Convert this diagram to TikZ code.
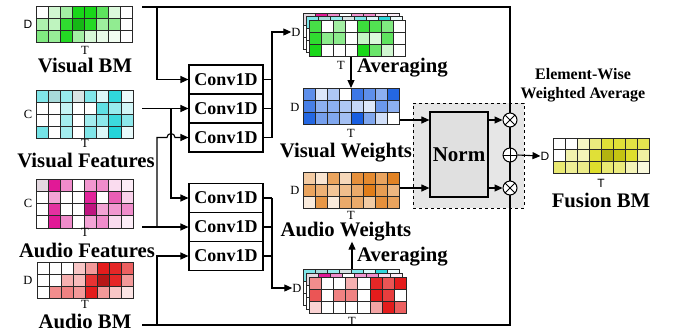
\documentclass[tikz,border=0pt]{standalone}
\usepackage{fontspec}
\setmainfont{Liberation Serif}
\newfontfamily\sanslab{Liberation Sans}
\usetikzlibrary{arrows.meta}
\definecolor{cG}{RGB}{25,215,25}
\definecolor{cC}{RGB}{25,210,215}
\definecolor{cM}{RGB}{225,25,150}
\definecolor{cR}{RGB}{228,28,28}
\definecolor{cB}{RGB}{25,95,225}
\definecolor{cO}{RGB}{225,125,25}
\definecolor{cY}{RGB}{218,218,20}
\definecolor{cCg}{RGB}{216,228,228}
\definecolor{cCh}{RGB}{168,218,218}
\definecolor{cMg}{RGB}{228,216,224}
\definecolor{gridline}{RGB}{40,40,40}
\definecolor{panelgray}{RGB}{230,230,230}
\definecolor{normgray}{RGB}{224,224,224}
\newcommand{\hmgrid}[5]{%
  \foreach \rw [count=\ri from 0] in {#5} {
    \foreach \cv [count=\ci from 0] in \rw {
      \filldraw[fill=\cv, draw=gridline, line width=0.9pt] ({#1+\ci*#3},{#2+\ri*#4}) rectangle ++(#3,#4);
    }
  }%
}
\tikzset{
  lab/.style={font=\fontsize{20.7}{22}\selectfont\bfseries, inner sep=0pt},
  smalllab/.style={font=\fontsize{12.5}{13}\selectfont, inner sep=0pt},
  sanssmall/.style={font=\fontsize{12}{13}\selectfont\sanslab, inner sep=0pt},
  conv/.style={draw, line width=1.1pt, minimum width=74pt, minimum height=29pt, inner sep=0pt, font=\fontsize{18}{20}\selectfont\bfseries},
  wire/.style={line width=1.1pt},
  arr/.style={wire, -{Triangle[length=8pt,width=7pt]}},
  op/.style={circle, draw, line width=1pt, fill=white, minimum size=14pt, inner sep=0pt},
  crossop/.style={op, path picture={\draw[line width=1pt] (path picture bounding box.north west) -- (path picture bounding box.south east) (path picture bounding box.north east) -- (path picture bounding box.south west);}},
  plusop/.style={op, path picture={\draw[line width=1pt] (path picture bounding box.north) -- (path picture bounding box.south) (path picture bounding box.east) -- (path picture bounding box.west);}},
}
\begin{document}
\begin{tikzpicture}[x=1pt,y=-1pt]
\useasboundingbox (0,0) rectangle (676,333);

% ---------- input grids ----------
\hmgrid{36}{6}{12.1}{12.3}{{white,cG!20,cG!40,cG,cG,cG!70,cG!15,white},{cG!35,cG!28,cG!90,cG!85!black,cG!95,cG!42,cG!48,white},{cG!55,cG!45,cG!95,cG!40,cG!18,cG!10,cG!6,white}}
\node[sanssmall] (dvbm) at (28,24) {D};
\node[smalllab] (tvbm) at (85,50) {T};
\node[lab] (lvbm) at (85,65.5) {Visual BM};

\hmgrid{36.5}{90}{12.07}{12}{{cC!55,cCh,cC!45,cCg,cC!55,cC!15,cC!90,cC!8},{white,white,cC!25,white,white,cC!70,cC!45,cC!20},{white,white,cC!40,white,cC!40,cC!50,cC!85,cC!50},{cC!60,white,cC!40,white,cC!55,cC!15,cC!95,cC!10}}
\node[smalllab] (cvf) at (28,114) {C};
\node[smalllab] (tvf) at (85,143) {T};
\node[lab] (lvf) at (86,160) {Visual Features};

\hmgrid{36.5}{179}{12.07}{12.25}{{cMg,cM,cM!50,white,cM!45,cM!50,cM!15,cM!8},{white,cM!40,white,white,cM!95,white,cM!70,cM!20},{white,cM!90,white,white,cM!85!black,cM!40,cM!45,cM!50},{white,cM,cM!50,white,cM!40,cM!50,cM!15,cM!8}}
\node[smalllab] (caf) at (28,203) {C};
\node[smalllab] (taf) at (85,232) {T};
\node[lab] (laf) at (87,250) {Audio Features};

\hmgrid{37}{262}{12}{12}{{white,white,white,cR!25,cR!45,cR,cR!95,cR!70},{white,white,cR!35,cR!30,cR!90,cR!80!black,cR!95,cR!45},{white,cR!50,cR!55,cR!45,cR,cR!45,cR!25,cR!12}}
\node[smalllab] (dabm) at (28,280) {D};
\node[smalllab] (tabm) at (85,304) {T};
\node[lab] (labm) at (85,321) {Audio BM};

% ---------- Conv1D boxes ----------
\node[conv] (cv1) at (226,79.5) {Conv1D};
\node[conv] (cv2) at (226,108.5) {Conv1D};
\node[conv] (cv3) at (226,137.5) {Conv1D};
\node[conv] (cv4) at (226,198) {Conv1D};
\node[conv] (cv5) at (226,227) {Conv1D};
\node[conv] (cv6) at (226,256) {Conv1D};

% ---------- outer frame line (Visual BM / Audio BM) ----------
\coordinate (vbmR) at (142,7);
\coordinate (abmR) at (142,325);
\coordinate (frTR) at (510,7);
\coordinate (frBR) at (510,325);
\draw[wire] (vbmR) -- (frTR) -- (frBR) -- (abmR);

% inputs
\coordinate (vbmBr) at (157,7);
\draw[arr] (vbmBr) |- (cv1.west);
\coordinate (vfR) at (142,108.5);
\draw[arr] (vfR) -- (cv2.west);
\coordinate (vfBr) at (171,108.5);
\draw[arr] (vfBr) |- (cv4.west);
\coordinate (afR) at (142,227);
\draw[arr] (afR) -- (cv5.west);
\coordinate (afBr) at (157,227);
\coordinate (afUp) at (157,137.5);
\coordinate (hopA) at (167,137.5);
\draw[arr] (afBr) -- (afUp) -- (hopA) arc (180:360:4) -- (cv3.west);
\coordinate (abmBr) at (157,325);
\draw[arr] (abmBr) |- (cv6.west);

% ---------- stacked grids ----------
\hmgrid{303}{13}{12.1}{12}{{cMg,cM,cM!50,white,cM!45,cM!50,cM!15,cM!8},{white,cM!40,white,white,cM!95,white,cM!70,cM!20},{white,cM!90,white,white,cM!85!black,cM!40,cM!45,cM!50}}
\hmgrid{306}{16.5}{12.1}{12}{{cC!55,cCh,cC!45,cCg,cC!55,cC!15,cC!90,cC!8},{white,white,cC!25,white,white,cC!70,cC!45,cC!20},{white,white,cC!40,white,cC!40,cC!50,cC!85,cC!50}}
\hmgrid{309}{20}{12.1}{12}{{cG!80,white,cG!40,white,cG!85,cG!75,cG!55,white},{cG!90,cG!50,cG!50,white,cG!25,cG!15,cG!70,white},{cG,white,white,white,cG,cG!65,cG!20,white}}
\node[smalllab] (dstk1) at (296,32) {D};
\node[smalllab] (tstk1) at (341,65) {T};

\hmgrid{303}{269}{12.1}{12}{{cC!55,cCh,cC!45,cCg,cC!55,cC!15,cC!90,cC!8},{white,white,cC!25,white,white,cC!70,cC!45,cC!20},{white,white,cC!40,white,cC!40,cC!50,cC!85,cC!50}}
\hmgrid{306}{273}{12.1}{12}{{cMg,cM,cM!50,white,cM!45,cM!50,cM!15,cM!8},{white,cM!40,white,white,cM!95,white,cM!70,cM!20},{white,cM!90,white,white,cM!85!black,cM!40,cM!45,cM!50}}
\hmgrid{309}{277}{12.2}{12}{{cR!50,white,white,cR!35,white,cR!95,cR!75,cR},{cR!75,white,cR!55,cR!55,white,cR,cR!85,white},{cR!20,white,white,white,white,cR!40,cR,cR!70}}
\node[smalllab] (dstk2) at (297,288) {D};
\node[smalllab] (tstk2) at (352,321) {T};

% conv outputs
\coordinate (upV) at (272,32);
\draw[wire] (cv1.east) -- (cv1.east -| upV);
\draw[wire] (cv2.east) -- (cv2.east -| upV);
\draw[wire] (cv3.east) -- (cv3.east -| upV);
\draw[arr] (cv3.east -| upV) -- (upV) -- (dstk1.west);
\coordinate (loV) at (272,288);
\draw[wire] (cv4.east) -- (cv4.east -| loV);
\draw[wire] (cv5.east) -- (cv5.east -| loV);
\draw[wire] (cv6.east) -- (cv6.east -| loV);
\draw[arr] (cv4.east -| loV) -- (loV) -- (dstk2.west);

% ---------- weights ----------
\hmgrid{303}{88}{12.1}{12.3}{{cB!70,cB!15,cB!35,white,cB!85,cB!70,cB!50,cB!95},{cB!80,cB!50,cB!50,cB!35,cB!25,cB!15,cB!65,cB!50},{cB!95,cB!60,cB!55,cB!40,cB,cB!55,cB!20,white}}
\node[smalllab] (dvw) at (295,107) {D};
\node[smalllab] (tvw) at (351,133) {T};
\node[lab] (lvw) at (346,153) {Visual Weights};

\hmgrid{303}{172}{12.1}{12}{{cO!40,cO!20,cO!70,cO!30,cO!85,cO!90,cO!70,cO!95},{cO!70,cO!60,cO!45,cO!50,cO!65,cO,cO!75,cO!55},{cO!15,cO!80,cO!15,cO!65,cO!65,cO!40,cO!85,cO!70}}
\node[smalllab] (daw) at (295,190) {D};
\node[smalllab] (taw) at (351,215) {T};
\node[lab] (law) at (346,232) {Audio Weights};

\coordinate (avg1s) at (351,57);
\coordinate (avg1e) at (351,88);
\draw[arr] (avg1s) -- (avg1e);
\node[lab, anchor=west] (avg1) at (357,68) {Averaging};
\coordinate (avg2s) at (352,269);
\draw[arr] (avg2s) -- (law.south -| avg2s);
\node[lab, anchor=west] (avg2) at (357,257) {Averaging};

% ---------- norm panel ----------
\node[draw, dashed, line width=0.9pt, fill=panelgray, minimum width=111pt, minimum height=105pt, inner sep=0pt] (panel) at (468.5,155.5) {};
\node[draw, line width=1.2pt, fill=normgray, minimum width=58pt, minimum height=85pt, inner sep=0pt, font=\fontsize{21}{23}\selectfont\bfseries] (norm) at (459,154.5) {Norm};
\draw[wire] (frTR) -- (frBR);
\node[crossop] (mul1) at (510,120) {};
\node[crossop] (mul2) at (510,188) {};
\node[plusop] (add) at (510,155) {};

\coordinate (vwR) at (400,120);
\coordinate (awR) at (400,188);
\draw[arr] (vwR) -- (vwR -| norm.west);
\draw[arr] (awR) -- (awR -| norm.west);
\draw[arr] (norm.east |- mul1) -- (mul1.west);
\draw[arr] (norm.east |- mul2) -- (mul2.west);

% ---------- fusion ----------
\hmgrid{553}{138}{12}{11.7}{{white,white,cY!25,cY!55,cY!85,cY!85,cY!80,cY!75},{white,cY!35,cY!30,cY!85,cY!82!black,cY!90!black,cY!90,cY!40},{cY!60,cY!45,cY!50,cY!90,cY!60,cY!55,cY!30,cY!15}}
\node[sanssmall] (dfu) at (545,156) {D};
\node[sanssmall] (tfu) at (601,183) {T};
\node[lab] (lfu) at (601,200) {Fusion BM};
\draw[arr] (add.east) -- (dfu.west);
\node[font=\fontsize{16}{18}\selectfont\bfseries, inner sep=0pt] (ew1) at (583,74) {Element-Wise};
\node[font=\fontsize{16}{18}\selectfont\bfseries, inner sep=0pt] (ew2) at (583,95) {Weighted Average};
\end{tikzpicture}
\end{document}
